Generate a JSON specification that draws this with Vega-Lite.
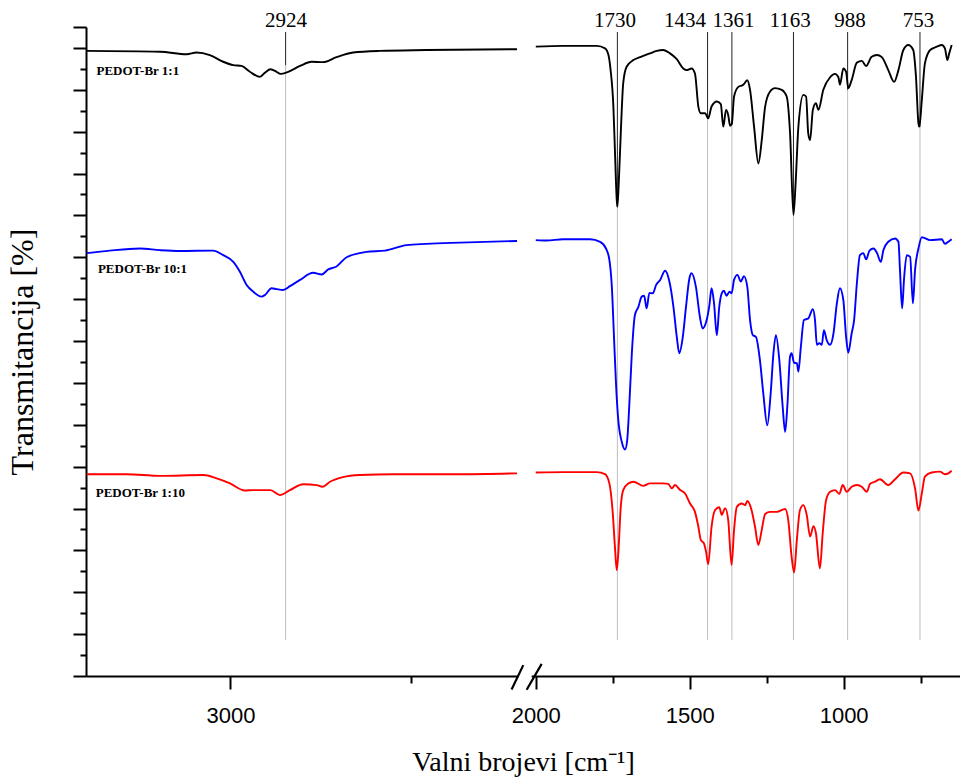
{
  "$schema": "https://vega.github.io/schema/vega-lite/v6.json",
  "width": 874,
  "height": 649,
  "autosize": "none",
  "padding": {"left": 86, "top": 27, "right": 0, "bottom": 102},
  "background": "white",
  "config": {"view": {"stroke": null}},
  "datasets": {
    "black": [
      {"seg":"L","wn":3398,"t":149.3},{"seg":"L","wn":3195,"t":149.1},{"seg":"L","wn":3121,"t":148.5},{"seg":"L","wn":3094,"t":148.9},{"seg":"L","wn":3057,"t":148.3},{"seg":"L","wn":3020,"t":146.7},{"seg":"L","wn":2992,"t":145.9},{"seg":"L","wn":2969,"t":145.7},{"seg":"L","wn":2946,"t":144.3},{"seg":"L","wn":2918,"t":143.1},{"seg":"L","wn":2904,"t":144.1},{"seg":"L","wn":2889,"t":144.9},{"seg":"L","wn":2872,"t":144.3},{"seg":"L","wn":2861,"t":143.8},{"seg":"L","wn":2840,"t":144.3},{"seg":"L","wn":2807,"t":145.7},{"seg":"L","wn":2775,"t":146.7},{"seg":"L","wn":2743,"t":146.6},{"seg":"L","wn":2706,"t":147.8},{"seg":"L","wn":2660,"t":148.9},{"seg":"L","wn":2586,"t":149.3},{"seg":"L","wn":2457,"t":149.5},{"seg":"L","wn":2206,"t":149.7},
      {"seg":"R","wn":2000,"t":150.3},{"seg":"R","wn":1911,"t":150.5},{"seg":"R","wn":1802,"t":150.5},{"seg":"R","wn":1775,"t":149.9},{"seg":"R","wn":1764,"t":148.3},{"seg":"R","wn":1757,"t":144.7},{"seg":"R","wn":1748,"t":136.0},{"seg":"R","wn":1743,"t":125.6},{"seg":"R","wn":1737,"t":113.7},{"seg":"R","wn":1735,"t":112.1},{"seg":"R","wn":1731,"t":116.9},{"seg":"R","wn":1724,"t":129.6},{"seg":"R","wn":1716,"t":141.6},{"seg":"R","wn":1705,"t":145.5},{"seg":"R","wn":1683,"t":147.1},{"seg":"R","wn":1661,"t":147.8},{"seg":"R","wn":1629,"t":148.7},{"seg":"R","wn":1607,"t":149.3},{"seg":"R","wn":1586,"t":149.5},{"seg":"R","wn":1564,"t":148.7},{"seg":"R","wn":1542,"t":147.3},{"seg":"R","wn":1521,"t":145.1},{"seg":"R","wn":1510,"t":144.7},{"seg":"R","wn":1494,"t":145.1},{"seg":"R","wn":1483,"t":143.9},{"seg":"R","wn":1472,"t":136.0},{"seg":"R","wn":1464,"t":134.4},{"seg":"R","wn":1450,"t":134.4},{"seg":"R","wn":1440,"t":133.2},{"seg":"R","wn":1429,"t":136.0},{"seg":"R","wn":1412,"t":137.2},{"seg":"R","wn":1399,"t":136.6},{"seg":"R","wn":1391,"t":131.2},{"seg":"R","wn":1382,"t":135.2},{"seg":"R","wn":1375,"t":134.0},{"seg":"R","wn":1369,"t":131.4},{"seg":"R","wn":1363,"t":132.0},{"seg":"R","wn":1356,"t":138.4},{"seg":"R","wn":1342,"t":140.7},{"seg":"R","wn":1326,"t":141.2},{"seg":"R","wn":1313,"t":142.3},{"seg":"R","wn":1304,"t":140.0},{"seg":"R","wn":1291,"t":131.2},{"seg":"R","wn":1277,"t":122.4},{"seg":"R","wn":1266,"t":128.0},{"seg":"R","wn":1255,"t":136.0},{"seg":"R","wn":1239,"t":139.6},{"seg":"R","wn":1223,"t":140.4},{"seg":"R","wn":1201,"t":140.0},{"seg":"R","wn":1185,"t":138.4},{"seg":"R","wn":1174,"t":129.6},{"seg":"R","wn":1163,"t":110.1},{"seg":"R","wn":1156,"t":117.7},{"seg":"R","wn":1147,"t":131.2},{"seg":"R","wn":1131,"t":138.8},{"seg":"R","wn":1122,"t":138.4},{"seg":"R","wn":1115,"t":129.6},{"seg":"R","wn":1109,"t":128.0},{"seg":"R","wn":1100,"t":135.2},{"seg":"R","wn":1090,"t":136.8},{"seg":"R","wn":1082,"t":135.2},{"seg":"R","wn":1066,"t":140.0},{"seg":"R","wn":1044,"t":143.0},{"seg":"R","wn":1028,"t":143.8},{"seg":"R","wn":1017,"t":143.0},{"seg":"R","wn":1012,"t":141.2},{"seg":"R","wn":1001,"t":145.1},{"seg":"R","wn":992,"t":144.3},{"seg":"R","wn":985,"t":140.4},{"seg":"R","wn":974,"t":142.3},{"seg":"R","wn":957,"t":146.5},{"seg":"R","wn":941,"t":146.9},{"seg":"R","wn":927,"t":145.7},{"seg":"R","wn":909,"t":147.9},{"seg":"R","wn":892,"t":148.3},{"seg":"R","wn":876,"t":147.8},{"seg":"R","wn":855,"t":144.7},{"seg":"R","wn":836,"t":141.9},{"seg":"R","wn":822,"t":144.7},{"seg":"R","wn":806,"t":149.5},{"seg":"R","wn":790,"t":150.7},{"seg":"R","wn":774,"t":149.5},{"seg":"R","wn":765,"t":143.1},{"seg":"R","wn":757,"t":132.0},{"seg":"R","wn":754,"t":131.2},{"seg":"R","wn":746,"t":137.6},{"seg":"R","wn":736,"t":146.3},{"seg":"R","wn":719,"t":149.5},{"seg":"R","wn":697,"t":150.3},{"seg":"R","wn":681,"t":150.7},{"seg":"R","wn":671,"t":149.9},{"seg":"R","wn":663,"t":147.1},{"seg":"R","wn":657,"t":148.7},{"seg":"R","wn":649,"t":150.7}
    ],
    "blue": [
      {"seg":"L","wn":3398,"t":101.0},{"seg":"L","wn":3334,"t":101.6},{"seg":"L","wn":3251,"t":102.1},{"seg":"L","wn":3195,"t":101.7},{"seg":"L","wn":3140,"t":101.5},{"seg":"L","wn":3048,"t":101.6},{"seg":"L","wn":3020,"t":100.5},{"seg":"L","wn":2992,"t":98.9},{"seg":"L","wn":2974,"t":96.6},{"seg":"L","wn":2955,"t":93.4},{"seg":"L","wn":2937,"t":91.8},{"seg":"L","wn":2914,"t":90.6},{"seg":"L","wn":2904,"t":91.0},{"seg":"L","wn":2886,"t":92.6},{"seg":"L","wn":2872,"t":92.4},{"seg":"L","wn":2854,"t":92.2},{"seg":"L","wn":2835,"t":93.1},{"seg":"L","wn":2807,"t":94.6},{"seg":"L","wn":2771,"t":96.3},{"seg":"L","wn":2747,"t":95.9},{"seg":"L","wn":2729,"t":97.1},{"seg":"L","wn":2706,"t":97.8},{"seg":"L","wn":2678,"t":100.0},{"seg":"L","wn":2623,"t":101.3},{"seg":"L","wn":2572,"t":101.6},{"seg":"L","wn":2512,"t":102.9},{"seg":"L","wn":2457,"t":103.2},{"seg":"L","wn":2364,"t":103.5},{"seg":"L","wn":2206,"t":103.9},
      {"seg":"R","wn":2000,"t":104.1},{"seg":"R","wn":1965,"t":104.0},{"seg":"R","wn":1911,"t":104.3},{"seg":"R","wn":1824,"t":104.3},{"seg":"R","wn":1791,"t":103.7},{"seg":"R","wn":1772,"t":102.1},{"seg":"R","wn":1761,"t":99.4},{"seg":"R","wn":1753,"t":93.0},{"seg":"R","wn":1746,"t":81.0},{"seg":"R","wn":1739,"t":69.1},{"seg":"R","wn":1732,"t":61.1},{"seg":"R","wn":1721,"t":56.0},{"seg":"R","wn":1710,"t":54.1},{"seg":"R","wn":1703,"t":56.4},{"seg":"R","wn":1696,"t":65.1},{"seg":"R","wn":1688,"t":77.1},{"seg":"R","wn":1678,"t":86.2},{"seg":"R","wn":1667,"t":88.1},{"seg":"R","wn":1656,"t":90.6},{"seg":"R","wn":1648,"t":90.8},{"seg":"R","wn":1640,"t":87.8},{"seg":"R","wn":1631,"t":91.5},{"seg":"R","wn":1620,"t":91.4},{"seg":"R","wn":1609,"t":93.4},{"seg":"R","wn":1596,"t":94.6},{"seg":"R","wn":1580,"t":96.8},{"seg":"R","wn":1566,"t":94.2},{"seg":"R","wn":1553,"t":88.2},{"seg":"R","wn":1542,"t":81.0},{"seg":"R","wn":1534,"t":77.1},{"seg":"R","wn":1523,"t":80.7},{"seg":"R","wn":1512,"t":88.2},{"seg":"R","wn":1501,"t":95.0},{"seg":"R","wn":1494,"t":96.2},{"seg":"R","wn":1480,"t":93.0},{"seg":"R","wn":1467,"t":85.8},{"seg":"R","wn":1458,"t":83.0},{"seg":"R","wn":1445,"t":85.0},{"seg":"R","wn":1436,"t":88.6},{"seg":"R","wn":1429,"t":92.6},{"seg":"R","wn":1421,"t":89.0},{"seg":"R","wn":1412,"t":81.4},{"seg":"R","wn":1404,"t":88.2},{"seg":"R","wn":1396,"t":91.4},{"seg":"R","wn":1389,"t":92.0},{"seg":"R","wn":1380,"t":90.8},{"seg":"R","wn":1371,"t":91.8},{"seg":"R","wn":1364,"t":91.4},{"seg":"R","wn":1356,"t":94.6},{"seg":"R","wn":1345,"t":95.8},{"seg":"R","wn":1334,"t":94.2},{"seg":"R","wn":1324,"t":95.5},{"seg":"R","wn":1313,"t":93.0},{"seg":"R","wn":1304,"t":85.0},{"seg":"R","wn":1295,"t":81.4},{"seg":"R","wn":1285,"t":81.0},{"seg":"R","wn":1272,"t":75.5},{"seg":"R","wn":1261,"t":67.5},{"seg":"R","wn":1248,"t":59.9},{"seg":"R","wn":1237,"t":67.5},{"seg":"R","wn":1228,"t":77.1},{"seg":"R","wn":1220,"t":81.4},{"seg":"R","wn":1209,"t":75.5},{"seg":"R","wn":1198,"t":64.3},{"seg":"R","wn":1190,"t":58.3},{"seg":"R","wn":1183,"t":64.3},{"seg":"R","wn":1174,"t":76.3},{"seg":"R","wn":1169,"t":77.1},{"seg":"R","wn":1161,"t":74.8},{"seg":"R","wn":1152,"t":74.7},{"seg":"R","wn":1147,"t":72.7},{"seg":"R","wn":1139,"t":78.6},{"seg":"R","wn":1129,"t":85.0},{"seg":"R","wn":1115,"t":85.4},{"seg":"R","wn":1100,"t":87.6},{"seg":"R","wn":1093,"t":85.0},{"seg":"R","wn":1087,"t":79.1},{"seg":"R","wn":1079,"t":79.5},{"seg":"R","wn":1071,"t":79.1},{"seg":"R","wn":1064,"t":82.6},{"seg":"R","wn":1055,"t":80.2},{"seg":"R","wn":1044,"t":79.1},{"seg":"R","wn":1033,"t":81.8},{"seg":"R","wn":1022,"t":89.0},{"seg":"R","wn":1012,"t":92.6},{"seg":"R","wn":1001,"t":89.8},{"seg":"R","wn":992,"t":81.0},{"seg":"R","wn":985,"t":77.2},{"seg":"R","wn":974,"t":81.8},{"seg":"R","wn":966,"t":85.0},{"seg":"R","wn":957,"t":93.8},{"seg":"R","wn":947,"t":100.5},{"seg":"R","wn":936,"t":101.0},{"seg":"R","wn":927,"t":99.5},{"seg":"R","wn":916,"t":101.6},{"seg":"R","wn":903,"t":102.1},{"seg":"R","wn":892,"t":101.1},{"seg":"R","wn":879,"t":98.9},{"seg":"R","wn":871,"t":101.7},{"seg":"R","wn":855,"t":103.7},{"seg":"R","wn":833,"t":104.5},{"seg":"R","wn":822,"t":103.7},{"seg":"R","wn":817,"t":97.0},{"seg":"R","wn":810,"t":87.8},{"seg":"R","wn":804,"t":94.6},{"seg":"R","wn":795,"t":100.5},{"seg":"R","wn":784,"t":100.1},{"seg":"R","wn":775,"t":89.0},{"seg":"R","wn":768,"t":97.0},{"seg":"R","wn":757,"t":102.1},{"seg":"R","wn":746,"t":104.8},{"seg":"R","wn":719,"t":104.1},{"seg":"R","wn":681,"t":104.3},{"seg":"R","wn":671,"t":103.2},{"seg":"R","wn":660,"t":103.7},{"seg":"R","wn":649,"t":104.3}
    ],
    "red": [
      {"seg":"L","wn":3398,"t":48.2},{"seg":"L","wn":3288,"t":48.2},{"seg":"L","wn":3195,"t":47.8},{"seg":"L","wn":3075,"t":48.0},{"seg":"L","wn":3038,"t":47.2},{"seg":"L","wn":3001,"t":46.0},{"seg":"L","wn":2960,"t":44.3},{"seg":"L","wn":2937,"t":44.4},{"seg":"L","wn":2889,"t":44.4},{"seg":"L","wn":2863,"t":43.2},{"seg":"L","wn":2835,"t":44.4},{"seg":"L","wn":2798,"t":45.8},{"seg":"L","wn":2761,"t":45.6},{"seg":"L","wn":2745,"t":45.2},{"seg":"L","wn":2724,"t":46.4},{"seg":"L","wn":2688,"t":47.5},{"seg":"L","wn":2641,"t":48.0},{"seg":"L","wn":2549,"t":48.2},{"seg":"L","wn":2364,"t":48.2},{"seg":"L","wn":2206,"t":48.4},
      {"seg":"R","wn":2000,"t":48.6},{"seg":"R","wn":1911,"t":48.7},{"seg":"R","wn":1802,"t":48.7},{"seg":"R","wn":1775,"t":48.2},{"seg":"R","wn":1761,"t":46.0},{"seg":"R","wn":1750,"t":38.9},{"seg":"R","wn":1743,"t":30.9},{"seg":"R","wn":1737,"t":25.3},{"seg":"R","wn":1732,"t":29.3},{"seg":"R","wn":1724,"t":40.4},{"seg":"R","wn":1716,"t":44.4},{"seg":"R","wn":1699,"t":46.0},{"seg":"R","wn":1683,"t":46.4},{"seg":"R","wn":1651,"t":45.4},{"seg":"R","wn":1629,"t":46.0},{"seg":"R","wn":1586,"t":46.0},{"seg":"R","wn":1570,"t":45.9},{"seg":"R","wn":1558,"t":44.8},{"seg":"R","wn":1548,"t":45.6},{"seg":"R","wn":1531,"t":44.4},{"seg":"R","wn":1515,"t":43.6},{"seg":"R","wn":1499,"t":41.2},{"seg":"R","wn":1483,"t":39.2},{"seg":"R","wn":1472,"t":35.7},{"seg":"R","wn":1464,"t":32.5},{"seg":"R","wn":1454,"t":31.7},{"seg":"R","wn":1447,"t":29.7},{"seg":"R","wn":1440,"t":26.7},{"seg":"R","wn":1429,"t":35.7},{"seg":"R","wn":1418,"t":39.6},{"seg":"R","wn":1404,"t":40.3},{"seg":"R","wn":1396,"t":38.5},{"seg":"R","wn":1385,"t":40.1},{"seg":"R","wn":1375,"t":37.3},{"seg":"R","wn":1364,"t":26.5},{"seg":"R","wn":1356,"t":34.9},{"seg":"R","wn":1347,"t":40.4},{"seg":"R","wn":1331,"t":41.2},{"seg":"R","wn":1320,"t":40.8},{"seg":"R","wn":1313,"t":41.8},{"seg":"R","wn":1299,"t":39.6},{"seg":"R","wn":1288,"t":35.7},{"seg":"R","wn":1277,"t":31.3},{"seg":"R","wn":1266,"t":34.9},{"seg":"R","wn":1255,"t":38.7},{"seg":"R","wn":1239,"t":39.2},{"seg":"R","wn":1217,"t":39.2},{"seg":"R","wn":1190,"t":39.9},{"seg":"R","wn":1180,"t":37.3},{"seg":"R","wn":1169,"t":28.5},{"seg":"R","wn":1161,"t":24.7},{"seg":"R","wn":1152,"t":32.5},{"seg":"R","wn":1142,"t":39.6},{"seg":"R","wn":1131,"t":40.8},{"seg":"R","wn":1120,"t":38.5},{"seg":"R","wn":1109,"t":33.3},{"seg":"R","wn":1098,"t":35.8},{"seg":"R","wn":1090,"t":34.1},{"seg":"R","wn":1077,"t":25.7},{"seg":"R","wn":1068,"t":34.1},{"seg":"R","wn":1057,"t":42.0},{"seg":"R","wn":1044,"t":44.0},{"seg":"R","wn":1028,"t":44.4},{"seg":"R","wn":1014,"t":43.5},{"seg":"R","wn":1003,"t":45.6},{"seg":"R","wn":990,"t":44.0},{"seg":"R","wn":974,"t":45.2},{"seg":"R","wn":957,"t":45.6},{"seg":"R","wn":941,"t":45.2},{"seg":"R","wn":925,"t":44.0},{"seg":"R","wn":914,"t":45.9},{"seg":"R","wn":898,"t":46.4},{"seg":"R","wn":882,"t":47.0},{"seg":"R","wn":855,"t":45.6},{"seg":"R","wn":833,"t":47.0},{"seg":"R","wn":806,"t":48.6},{"seg":"R","wn":784,"t":48.4},{"seg":"R","wn":768,"t":44.8},{"seg":"R","wn":757,"t":39.5},{"seg":"R","wn":746,"t":43.6},{"seg":"R","wn":736,"t":47.6},{"seg":"R","wn":714,"t":48.6},{"seg":"R","wn":687,"t":48.8},{"seg":"R","wn":671,"t":48.2},{"seg":"R","wn":660,"t":48.4},{"seg":"R","wn":649,"t":49.0}
    ],
    "annGrey": [
      {"wn":2847,"t":8.6,"t2":145.9},
      {"wn":1735,"t":8.6,"t2":112.0},
      {"wn":1442,"t":8.6,"t2":133.3},
      {"wn":1363,"t":8.6,"t2":131.6},
      {"wn":1163,"t":8.6,"t2":110.1},
      {"wn":987,"t":8.6,"t2":140.0},
      {"wn":752,"t":8.6,"t2":131.1}
    ],
    "annDark": [
      {"wn":2847,"t":145.9,"t2":153.8},
      {"wn":1735,"t":112.0,"t2":153.8},
      {"wn":1442,"t":133.3,"t2":153.8},
      {"wn":1363,"t":131.6,"t2":153.8},
      {"wn":1163,"t":110.1,"t2":153.8},
      {"wn":987,"t":140.0,"t2":153.8},
      {"wn":752,"t":131.1,"t2":153.8}
    ],
    "annlab": [
      {"label":"2924","wn":2846,"t":156.5},
      {"label":"1730","wn":1743,"t":156.5},
      {"label":"1434","wn":1515,"t":156.5},
      {"label":"1361","wn":1358,"t":156.5},
      {"label":"1163","wn":1174,"t":156.5},
      {"label":"988","wn":979,"t":156.5},
      {"label":"753","wn":757,"t":156.5}
    ],
    "names": [
      {"name":"PEDOT-Br 1:1","wn":3371,"t":144.6},
      {"name":"PEDOT-Br 10:1","wn":3367,"t":97.1},
      {"name":"PEDOT-Br 1:10","wn":3373,"t":43.8}
    ],
    "gap": [
      {"wn":2190,"wn2":2045,"t":0,"t2":0}
    ],
    "brk": [
      {"wn":2221,"t":-3.2,"wn2":2137,"t2":2.6},
      {"wn":2100,"t":-3.3,"wn2":1981,"t2":2.9}
    ]
  },
  "encoding": {
    "x": {
      "field": "wn", "type": "quantitative",
      "scale": {"domain": [3400, 2206, 2000, 622], "range": [0, 431, 449.8, 874], "zero": false, "nice": false},
      "axis": {
        "values": [3000, 2500, 2000, 1750, 1500, 1250, 1000, 750],
        "format": "d",
        "labelExpr": "indexof([3000,2000,1500,1000], datum.value) >= 0 ? datum.label : ''",
        "tickSize": {"condition": {"test": "indexof([3000,2000,1500,1000], datum.value) >= 0", "value": 13}, "value": 7},
        "tickWidth": 2, "tickColor": "#000000",
        "domainColor": "#000000", "domainWidth": 2,
        "labelFont": "Liberation Sans", "labelFontSize": 22, "labelColor": "#000000", "labelPadding": 16,
        "labelFlush": false, "labelOverlap": false,
        "grid": false,
        "title": "Valni brojevi [cm⁻¹]",
        "titleFont": "Liberation Serif", "titleFontSize": 28, "titleFontWeight": "normal", "titleColor": "#000000", "titlePadding": 22
      }
    },
    "y": {
      "field": "t", "type": "quantitative",
      "scale": {"domain": [0, 155], "zero": false, "nice": false},
      "axis": {
        "values": [0,5,10,15,20,25,30,35,40,45,50,55,60,65,70,75,80,85,90,95,100,105,110,115,120,125,130,135,140,145,150,155],
        "labels": false,
        "tickSize": {"condition": {"test": "datum.value % 10 === 0 || datum.value === 155", "value": 13}, "value": 6},
        "tickWidth": 2, "tickColor": "#000000",
        "domainColor": "#000000", "domainWidth": 2,
        "grid": false,
        "title": "Transmitancija [%]",
        "titleFont": "Liberation Serif", "titleFontSize": 32, "titleFontWeight": "normal", "titleColor": "#000000", "titlePadding": 33
      }
    }
  },
  "layer": [
    {
      "data": {"name": "annGrey"},
      "mark": {"type": "rule", "color": "#bdbdbd", "strokeWidth": 1},
      "encoding": {"y2": {"field": "t2"}}
    },
    {
      "data": {"name": "annDark"},
      "mark": {"type": "rule", "color": "#222222", "strokeWidth": 1},
      "encoding": {"y2": {"field": "t2"}}
    },
    {
      "data": {"name": "black"},
      "mark": {"type": "line", "color": "#000000", "strokeWidth": 1.9, "interpolate": "monotone"},
      "encoding": {"detail": {"field": "seg", "type": "nominal"}, "order": {"field": "wn", "sort": "descending"}}
    },
    {
      "data": {"name": "blue"},
      "mark": {"type": "line", "color": "#0000ff", "strokeWidth": 1.9, "interpolate": "monotone"},
      "encoding": {"detail": {"field": "seg", "type": "nominal"}, "order": {"field": "wn", "sort": "descending"}}
    },
    {
      "data": {"name": "red"},
      "mark": {"type": "line", "color": "#ff0000", "strokeWidth": 1.9, "interpolate": "monotone"},
      "encoding": {"detail": {"field": "seg", "type": "nominal"}, "order": {"field": "wn", "sort": "descending"}}
    },
    {
      "data": {"name": "annlab"},
      "mark": {"type": "text", "font": "Liberation Serif", "fontSize": 21, "color": "#000000", "align": "center", "baseline": "middle"},
      "encoding": {"text": {"field": "label", "type": "nominal"}}
    },
    {
      "data": {"name": "names"},
      "mark": {"type": "text", "font": "Liberation Serif", "fontSize": 13, "fontWeight": "bold", "color": "#000000", "align": "left", "baseline": "middle"},
      "encoding": {"text": {"field": "name", "type": "nominal"}}
    },
    {
      "data": {"name": "gap"},
      "mark": {"type": "rule", "color": "#ffffff", "strokeWidth": 5},
      "encoding": {"x2": {"field": "wn2"}, "y2": {"field": "t2"}}
    },
    {
      "data": {"name": "brk"},
      "mark": {"type": "rule", "color": "#000000", "strokeWidth": 2.2},
      "encoding": {"x2": {"field": "wn2"}, "y2": {"field": "t2"}}
    }
  ]
}
